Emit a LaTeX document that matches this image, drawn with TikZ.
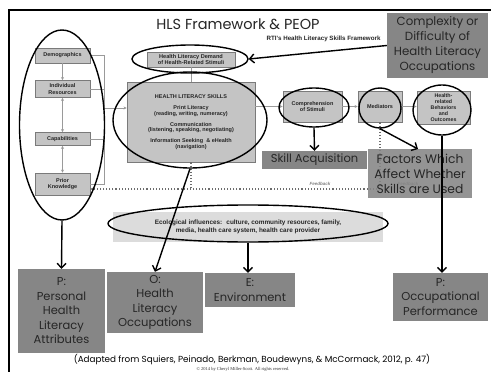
\documentclass[tikz,border=0pt]{standalone}
\usepackage{fontspec}
\setmainfont{Poppins}
\newfontfamily\arialfont{Liberation Sans}
\newfontfamily\serfont{Liberation Serif}
\usetikzlibrary{shapes.geometric,arrows.meta}
\definecolor{boxgray}{HTML}{868686}
\definecolor{boxtext}{HTML}{262626}
\definecolor{lightfill}{HTML}{C4C4C4}
\definecolor{lightedge}{HTML}{7A7A7A}
\definecolor{ecofill}{HTML}{DCDCDC}
\definecolor{linegray}{HTML}{9A9A9A}
\begin{document}
\begin{tikzpicture}[x=1pt,y=-1pt,
  lbox/.style={draw=lightedge, fill=lightfill, line width=0.8pt, text=boxtext,
    align=center, inner sep=0pt,
    font=\arialfont\bfseries\fontsize{5.5}{6.3}\selectfont},
  dbox/.style={fill=boxgray, text=boxtext, align=center, inner sep=0pt,
    font=\fontsize{11.5}{14.5}\selectfont},
  ring/.style={ellipse, draw=black, line width=1.4pt, inner sep=0pt},
  bigarrow/.style={draw=black, line width=1.4pt,
    -{Straight Barb[length=4.5pt,width=9pt,line width=1.4pt]}},
  thin/.style={draw=linegray, line width=0.8pt},
  thinarrow/.style={thin, -{Stealth[length=3pt,width=3pt]}},
  fb/.style={draw=gray!85!black, line width=1.1pt, dotted},
  fbtext/.style={text=gray, font=\arialfont\itshape\bfseries\fontsize{4.5}{5}\selectfont}
]
\useasboundingbox (0,0) rectangle (491,372);
\fill[white] (0,0) rectangle (491,372);

% slide frame
\draw[black, line width=2pt] (9,372) -- (9,10) -- (491,10);

% title
\node[font=\fontsize{14.5}{17}\selectfont, text=black!85] (title) at (238,24) {HLS Framework \& PEOP};
\node[anchor=east, font=\arialfont\bfseries\fontsize{6.2}{7}\selectfont, text=boxtext] (subtitle) at (384,38.5)
  {RTI's Health Literacy Skills Framework};

% left column of personal factors
\node[lbox, minimum width=55pt, minimum height=15pt] (demo) at (62.5,55.5) {Demographics};
\node[lbox, minimum width=55pt, minimum height=17pt] (indiv) at (62.5,89) {Individual\\Resources};
\node[lbox, minimum width=55pt, minimum height=13pt] (cap) at (62.5,139) {Capabilities};
\node[lbox, minimum width=55pt, minimum height=22pt] (prior) at (62.5,184) {Prior\\Knowledge};

\draw[thinarrow] (demo.south) -- (indiv.north);
\draw[thin, {Stealth[length=3pt,width=3pt]}-{Stealth[length=3pt,width=3pt]}] (indiv.south) -- (cap.north);
\draw[thin, {Stealth[length=3pt,width=3pt]}-{Stealth[length=3pt,width=3pt]}] (cap.south) -- (prior.north);

\coordinate (bTop) at (104,55.5);
\coordinate (bBot) at (104,184);
\coordinate (bMid) at (104,108);
\draw[thin] (demo.east) -- (bTop) -- (bBot) -- (prior.east);
\draw[thin] (indiv.east) -- (indiv.east -| bTop);
\draw[thin] (cap.east) -- (cap.east -| bTop);

% central skills
\node[lbox, minimum width=88pt, minimum height=15pt, font=\arialfont\bfseries\fontsize{5.6}{6.4}\selectfont]
  (demand) at (191,59.5) {Health Literacy Demand\\of Health-Related Stimuli};
\node[lbox, minimum width=128pt, minimum height=80pt, font=\arialfont\bfseries\fontsize{5.5}{5.9}\selectfont]
  (hls) at (191,122) {HEALTH LITERACY SKILLS\\[5.5pt]
  Print Literacy\\(reading, writing, numeracy)\\[4.5pt]
  Communication\\(listening, speaking, negotiating)\\[4.5pt]
  Information Seeking \ \& eHealth\\(navigation)};
\draw[thin] (demand.south) -- (hls.north -| demand.south);
\draw[thinarrow] (bMid) -- (bMid -| hls.west);

% outcome chain
\node[lbox, minimum width=59pt, minimum height=31pt] (comp) at (312.5,106.5) {Comprehension\\of Stimuli};
\node[lbox, minimum width=44pt, minimum height=31pt] (med) at (380,106.5) {Mediators};
\node[lbox, minimum width=53pt, minimum height=33pt, font=\arialfont\bfseries\fontsize{5.3}{6}\selectfont]
  (out) at (443.5,107.5) {Health-\\related\\Behaviors\\and\\Outcomes};
\draw[thinarrow] (hls.east |- comp.west) -- (comp.west);
\draw[thinarrow] (comp.east) -- (med.west);
\draw[thinarrow] (med.east) -- (med.east -| out.west);

% feedback loop
\coordinate (fbR) at (380,189);
\draw[fb] (med.south) -- (fbR);
\draw[fb] (hls.south) -- (hls.south |- fbR);
\draw[fb, -{Stealth[length=3pt,width=3pt]}] (fbR) -- (prior.east |- fbR);
\node[fbtext] (fb1) at (320,184) {Feedback};
\node[fbtext] (fb2) at (408,184) {Feedback};

% ecological influences
\node[fill=ecofill, minimum width=270pt, minimum height=30pt, inner sep=0pt, align=center, text=boxtext,
  font=\arialfont\bfseries\fontsize{6.4}{8}\selectfont]
  (eco) at (248,227) {Ecological influences: \ culture, community resources, family,\\
  media, health care system, health care provider};

% PEOP labels
\node[dbox, minimum width=101pt, minimum height=65pt, font=\fontsize{11.8}{15}\selectfont]
  (complex) at (437.5,45.5) {Complexity or\\Difficulty of\\Health Literacy\\Occupations};
\node[dbox, minimum width=105pt, minimum height=18pt] (skill) at (314.5,160) {Skill Acquisition};
\node[dbox, minimum width=104pt, minimum height=49pt, fill opacity=0.88, text opacity=1,
  font=\fontsize{12.3}{15}\selectfont]
  (factors) at (420,173.5) {Factors Which\\Affect Whether\\Skills are Used};
\node[dbox, minimum width=87pt, minimum height=84pt] (pers) at (61.5,311)
  {P:\\Personal\\Health\\Literacy\\Attributes};
\node[dbox, minimum width=96pt, minimum height=61pt] (occ) at (155,302.5)
  {O:\\Health\\Literacy\\Occupations};
\node[dbox, minimum width=90pt, minimum height=34pt] (env) at (250,290) {E:\\Environment};
\node[dbox, minimum width=95pt, minimum height=48pt] (perf) at (440.5,297)
  {P:\\Occupational\\Performance};

% highlighting rings
\node[ring, minimum width=85pt, minimum height=190pt] (eLeft) at (62,125) {};
\node[ring, minimum width=116pt, minimum height=28pt] (eDemand) at (190,59) {};
\node[ring, minimum width=154pt, minimum height=96pt] (eHLS) at (190,120) {};
\node[ring, minimum width=70pt, minimum height=39pt] (eComp) at (314,107.5) {};
\node[ring, minimum width=42pt, minimum height=40pt] (eMed) at (380,108) {};
\node[ring, minimum width=58pt, minimum height=50pt] (eOut) at (442,110) {};
\node[ring, minimum width=280pt, minimum height=37pt] (eEco) at (248,223.5) {};

% connectors to the PEOP labels
\coordinate (facIn) at (418,149);
\draw[bigarrow] (complex.west) -- (eDemand.east);
\draw[bigarrow] (eComp.south) -- (skill.north);
\draw[bigarrow] (eMed.south) -- (facIn);
\draw[bigarrow] (eLeft.south) -- (pers.north);
\draw[bigarrow] (eHLS.south) -- (occ.north);
\draw[bigarrow] (eEco.south) -- (eEco.south |- env.north);
\draw[bigarrow] (eOut.south) -- (eOut.south |- perf.north);

% source line
\node[font=\fontsize{8.8}{10}\selectfont, text=black] (source) at (252,360)
  {(Adapted from Squiers, Peinado, Berkman, Boudewyns, \& McCormack, 2012, p. 47)};
\node[font=\serfont\fontsize{4.5}{5}\selectfont, text=black!80] (copy) at (243,369.5)
  {\textcopyright{} 2014 by Cheryl Miller-Scott. All rights reserved.};
\end{tikzpicture}
\end{document}
